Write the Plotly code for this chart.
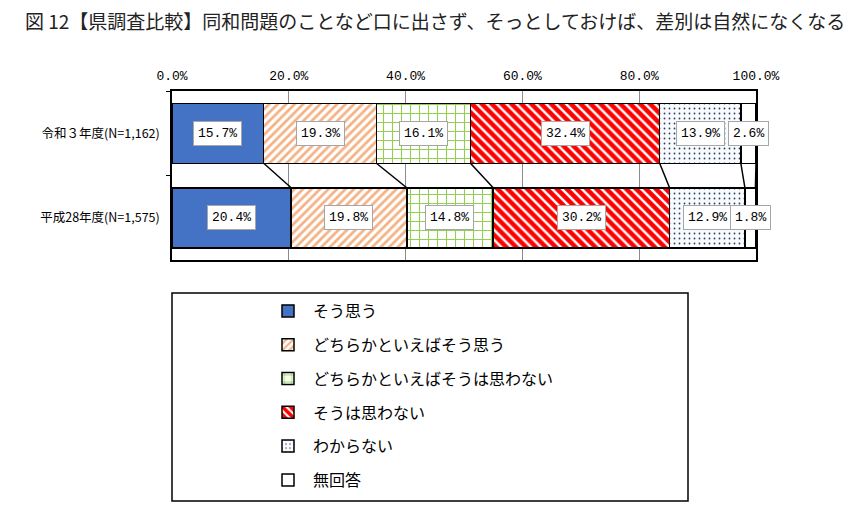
import plotly.graph_objects as go

# ---- data ----
categories = ["令和３年度(N=1,162)", "平成28年度(N=1,575)"]
series_names = ["そう思う", "どちらかといえばそう思う", "どちらかといえばそうは思わない",
                "そうは思わない", "わからない", "無回答"]
r3_values = [15.7, 19.3, 16.1, 32.4, 13.9, 2.6]
h28_values = [20.4, 19.8, 14.8, 30.2, 12.9, 1.8]
tick_vals = [0, 20, 40, 60, 80, 100]
tick_text = ["0.0%", "20.0%", "40.0%", "60.0%", "80.0%", "100.0%"]
title_text = "図 12【県調査比較】同和問題のことなど口に出さず、そっとしておけば、差別は自然になくなる"

# ---- styles ----
patterns = [
    dict(shape="", bgcolor="#4472C4"),
    dict(shape="/", fgcolor="#F4B183", bgcolor="white", size=6, solidity=0.45, fgopacity=1),
    dict(shape="+", fgcolor="#92D050", bgcolor="white", size=9, solidity=0.22, fgopacity=1),
    dict(shape="\\", fgcolor="#FF0000", bgcolor="white", size=7, solidity=0.65, fgopacity=1),
    dict(shape=".", fgcolor="#2F3D5C", bgcolor="#F7FBFE", size=5, solidity=0.1, fgopacity=1),
    dict(shape="", bgcolor="white"),
]
colors = ["#4472C4", "white", "white", "white", "#F7FBFE", "white"]
BAR_W = 0.71
JP = "Noto Sans CJK JP"
MONO = "Liberation Mono"

# page offset (browser body margin) compensation
OFF = 8
FIG_W, FIG_H = 865 - OFF, 514 - OFF

fig = go.Figure()
for i, name in enumerate(series_names):
    vals = [r3_values[i], h28_values[i]]
    fig.add_trace(go.Bar(
        y=categories, x=vals, name=name, orientation="h", width=BAR_W,
        marker=dict(color=colors[i], pattern=patterns[i],
                    line=dict(color="black", width=1.5)),
        legendgroup=name, hoverinfo="skip",
    ))

# data labels
annotations = []
for row, vals in enumerate([r3_values, h28_values]):
    cum = 0
    for i, v in enumerate(vals):
        center = cum + v / 2
        cum += v
        annotations.append(dict(
            x=center, y=categories[row], xref="x", yref="y",
            text=f"{v:.1f}%", showarrow=False,
            font=dict(family=MONO, size=13, color="black"),
            bgcolor="white", bordercolor="#A6A6A6", borderwidth=1, borderpad=4,
        ))

# series lines connecting stacked boundaries
shapes = []
c_top = 0
c_bot = 0
for i in range(len(series_names)):
    c_top += r3_values[i]
    c_bot += h28_values[i]
    shapes.append(dict(type="line", xref="x", yref="y",
                       x0=c_top, y0=0 + BAR_W / 2, x1=c_bot, y1=1 - BAR_W / 2,
                       line=dict(color="black", width=1.5)))

# plot area in reference pixel coordinates
PLOT_L, PLOT_R, PLOT_T, PLOT_B = 172, 756, 91, 260
def px_x(p):
    return (p - PLOT_L) / (PLOT_R - PLOT_L)
def px_y(p):
    return (PLOT_B - p) / (PLOT_B - PLOT_T)

shapes.append(dict(type="rect", xref="paper", yref="paper",
                   x0=px_x(172), x1=px_x(688), y0=px_y(501), y1=px_y(293),
                   line=dict(color="black", width=1.5), fillcolor="rgba(0,0,0,0)"))

fig.update_layout(
    width=FIG_W, height=FIG_H,
    margin=dict(l=PLOT_L - OFF, r=865 - PLOT_R, t=PLOT_T - OFF, b=514 - PLOT_B,
                autoexpand=False),
    barmode="stack",
    plot_bgcolor="white", paper_bgcolor="white",
    title=dict(text=title_text, x=(25 - OFF) / FIG_W, y=1 - (22 - OFF) / FIG_H,
               xref="container", yref="container",
               xanchor="left", yanchor="middle",
               font=dict(family=JP, size=19, color="#222222")),
    showlegend=True,
    legend=dict(
        x=px_x(263), y=px_y(294), xanchor="left", yanchor="top",
        font=dict(family=JP, size=16, color="black"),
        bgcolor="rgba(0,0,0,0)", borderwidth=0,
        traceorder="grouped", tracegroupgap=10, itemwidth=40,
    ),
    annotations=annotations,
    shapes=shapes,
    xaxis=dict(
        range=[0, 100], side="top", tickvals=tick_vals, ticktext=tick_text,
        tickfont=dict(family=MONO, size=13, color="black"),
        showgrid=True, gridcolor="#8C8C8C", gridwidth=1,
        showline=True, linecolor="black", linewidth=1.5, mirror=True,
        zeroline=False, ticks="", ticklabelstandoff=4, fixedrange=True,
    ),
    yaxis=dict(
        autorange="reversed", categoryorder="array", categoryarray=categories,
        tickfont=dict(family=JP, size=12.5, color="black"),
        showline=True, linecolor="black", linewidth=1.5, mirror=True,
        ticks="outside", tickson="boundaries", ticklen=4, tickcolor="black",
        ticklabelstandoff=8, showgrid=False, fixedrange=True,
    ),
)

fig.write_html("out.html")
